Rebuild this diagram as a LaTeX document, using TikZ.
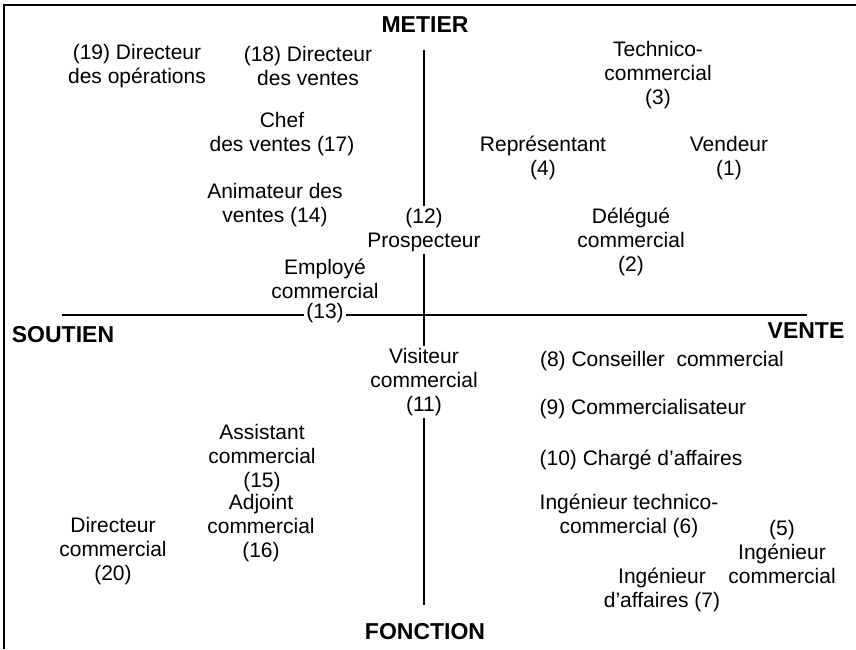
\documentclass[tikz,border=0pt]{standalone}
\usepackage{fontspec}
\setmainfont{Liberation Sans}
\usepackage{tikz}
\usetikzlibrary{positioning}

\begin{document}
\begin{tikzpicture}[x=0.5pt,y=-0.5pt,
  every node/.style = {draw=none, align=center, inner sep=1pt,
    font=\fontsize{10.5}{11.8}\selectfont},
  axe/.style = {font=\fontsize{11.5}{13}\selectfont\bfseries},
  ligne/.style = {line width=0.8pt}]
  \useasboundingbox (0,0) rectangle (856,649);
  % cadre
  \draw[line width=1pt] (4,649) -- (4,5) -- (856,5);

  % axes
  \node[axe] (metier) at (425,25) {METIER};
  \node[axe] (fonction) at (425,632) {FONCTION};
  \node[axe] (soutien) at (63,335) {SOUTIEN};
  \node[axe] (vente) at (806,331) {VENTE};
  \coordinate (vhaut) at (424,50);
  \coordinate (vbas) at (424,605);
  \coordinate (ggauche) at (62,315);
  \coordinate (gdroite) at (807,315);

  % metiers
  \node (n19) at (137,66) {(19) Directeur\\des opérations};
  \node (n18) at (308,66) {(18) Directeur\\des ventes};
  \node (n3) at (658,75) {Technico-\\commercial\\(3)};
  \node (n17) at (282,134) {Chef\\des ventes (17)};
  \node (n4) at (543,158) {Représentant\\(4)};
  \node (n1) at (729,158) {Vendeur\\(1)};
  \node (n14) at (275,205) {Animateur des\\ventes (14)};
  \node (n12) at (424,230) {(12)\\Prospecteur};
  \node (n2) at (631,242) {Délégué\\commercial\\(2)};
  \node (n13) at (325,313) {(13)};
  \node[above=0pt of n13] (n13b) {Employé\\commercial};
  \node (n11) at (424,382) {Visiteur\\commercial\\(11)};
  \node (n8) at (662,361) {(8) Conseiller\ \ commercial};
  \node (n9) at (643,409) {(9) Commercialisateur};
  \node (n10) at (641,460) {(10) Chargé d’affaires};
  \node (n6) at (629,516) {Ingénieur technico-\\commercial (6)};
  \node (n5) at (782,552) {(5)\\Ingénieur\\commercial};
  \node (n7) at (662,590) {Ingénieur\\d’affaires (7)};
  \node (n15) at (262,458) {Assistant\\commercial\\(15)};
  \node (n16) at (261,528) {Adjoint\\commercial\\(16)};
  \node (n20) at (113,551) {Directeur\\commercial\\(20)};

  \draw[ligne] (vhaut) -- (vhaut |- n12.north)
    (vhaut |- n12.south) -- (vhaut |- n11.north)
    (vhaut |- n11.south) -- (vbas);
  \draw[ligne] (ggauche) -- (ggauche -| n13.west)
    (ggauche -| n13.east) -- (gdroite);
\end{tikzpicture}
\end{document}
